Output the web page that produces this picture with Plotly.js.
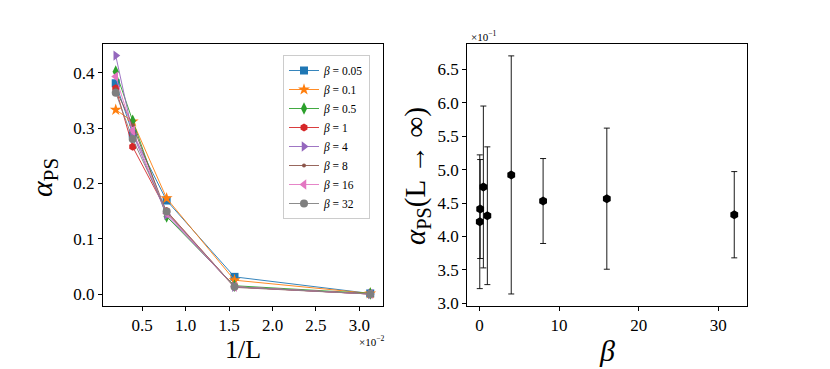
<!DOCTYPE html>
<html>
<head>
<meta charset="utf-8">
<script src="https://cdn.plot.ly/plotly-3.0.1.min.js"></script>
<style>
  html, body { margin: 0; padding: 0; background: #fff; }
  #graph { width: 830px; height: 369px; }
</style>
</head>
<body>
<div id="graph"></div>
<script>
// left panel: 1/L in units of 1e-2
const invL = [0.1953, 0.3906, 0.78125, 1.5625, 3.125];
const betaNames = ['0.05', '0.1', '0.5', '1', '4', '8', '16', '32'];
const alphaB005 = [0.381, 0.290, 0.169, 0.031, 0.001];
const alphaB01 = [0.333, 0.312, 0.173, 0.025, 0.001];
const alphaB05 = [0.402, 0.313, 0.140, 0.015, 0.001];
const alphaB1 = [0.372, 0.266, 0.150, 0.013, 0.000];
const alphaB4 = [0.431, 0.290, 0.143, 0.013, 0.000];
const alphaB8 = [0.370, 0.305, 0.147, 0.012, 0.000];
const alphaB16 = [0.393, 0.295, 0.146, 0.013, 0.000];
const alphaB32 = [0.364, 0.280, 0.149, 0.013, 0.000];

// right panel: extrapolated alpha in units of 1e-1
const beta = [0.05, 0.1, 0.5, 1, 4, 8, 16, 32];
const alphaInf = [4.22, 4.41, 4.74, 4.31, 4.92, 4.53, 4.565, 4.325];
const alphaErr = [1.0, 0.74, 1.21, 1.03, 1.78, 0.635, 1.055, 0.645];

const colors = ['#1f77b4', '#ff7f0e', '#2ca02c', '#d62728', '#9467bd', '#8c564b', '#e377c2', '#7f7f7f'];
const symbols = ['square', 'star', 'diamond-tall', 'hexagon', 'triangle-right', 'circle', 'triangle-left', 'circle'];
const sizes = [8, 9, 9, 8, 9, 4, 9, 8];
const series = [alphaB005, alphaB01, alphaB05, alphaB1, alphaB4, alphaB8, alphaB16, alphaB32];

const font = 'Liberation Serif, DejaVu Serif, serif';

const traces = series.map((ys, i) => ({
    type: 'scatter',
    mode: 'lines+markers',
    x: invL,
    y: ys,
    name: '<i>β</i> = ' + betaNames[i],
    line: { color: colors[i], width: 0.9 },
    marker: { color: colors[i], symbol: symbols[i], size: sizes[i], line: { width: 0 } },
    xaxis: 'x',
    yaxis: 'y'
}));

traces.push({
    type: 'scatter',
    mode: 'markers',
    x: beta,
    y: alphaInf,
    showlegend: false,
    marker: { color: '#000', symbol: 'hexagon', size: 9 },
    error_y: { type: 'data', array: alphaErr, visible: true, color: '#000', thickness: 0.9, width: 3 },
    xaxis: 'x2',
    yaxis: 'y2'
});

const axisBase = {
    showline: true,
    mirror: true,
    linecolor: '#000',
    linewidth: 1,
    ticks: 'outside',
    ticklen: 4,
    tickcolor: '#000',
    showgrid: false,
    zeroline: false,
    tickfont: { family: font, size: 17, color: '#000' }
};

function label(text, x, y, size, angle) {
    return {
        text: text, xref: 'paper', yref: 'paper', x: x / 830, y: 1 - y / 369,
        xanchor: 'center', yanchor: 'middle', showarrow: false,
        textangle: angle || 0, font: { family: font, size: size, color: '#000' }
    };
}

const layout = {
    width: 830,
    height: 369,
    margin: { l: 0, r: 0, t: 0, b: 0 },
    paper_bgcolor: '#fff',
    plot_bgcolor: '#fff',
    font: { family: font, color: '#000' },
    showlegend: true,
    legend: {
        x: 283 / 830, y: 1 - 55 / 369, xanchor: 'left', yanchor: 'top',
        bgcolor: 'rgba(255,255,255,0.8)',
        bordercolor: '#ccc', borderwidth: 1,
        font: { family: font, size: 11.5, color: '#000' },
        tracegroupgap: 0,
        itemwidth: 30
    },
    xaxis: Object.assign({}, axisBase, {
        domain: [0.1241, 0.4614],
        range: [0.0488, 3.2715],
        tickvals: [0.5, 1.0, 1.5, 2.0, 2.5, 3.0],
        tickformat: '.1f',
        anchor: 'y'
    }),
    yaxis: Object.assign({}, axisBase, {
        domain: [0.1707, 0.8808],
        range: [-0.0217, 0.452],
        tickvals: [0.0, 0.1, 0.2, 0.3, 0.4],
        tickformat: '.1f',
        anchor: 'x'
    }),
    xaxis2: Object.assign({}, axisBase, {
        domain: [0.5627, 0.9],
        range: [-1.55, 33.6],
        tickvals: [0, 10, 20, 30],
        anchor: 'y2'
    }),
    yaxis2: Object.assign({}, axisBase, {
        domain: [0.1707, 0.8808],
        range: [2.96, 6.878],
        tickvals: [3.0, 3.5, 4.0, 4.5, 5.0, 5.5, 6.0, 6.5],
        tickformat: '.1f',
        anchor: 'x2'
    }),
    annotations: [
        label('1/L', 243, 349, 26),
        label('<i>α</i><sub>PS</sub>', 44, 178, 30, -90),
        label('×10<sup>−2</sup>', 372, 341, 11),
        label('<i>β</i>', 607, 350, 30),
        label('<i>α</i><sub>PS</sub>(L → ∞)', 417, 176, 29, -90),
        label('×10<sup>−1</sup>', 484, 36, 11)
    ]
};

Plotly.newPlot('graph', traces, layout, { displayModeBar: false, staticPlot: true });
</script>
</body>
</html>
